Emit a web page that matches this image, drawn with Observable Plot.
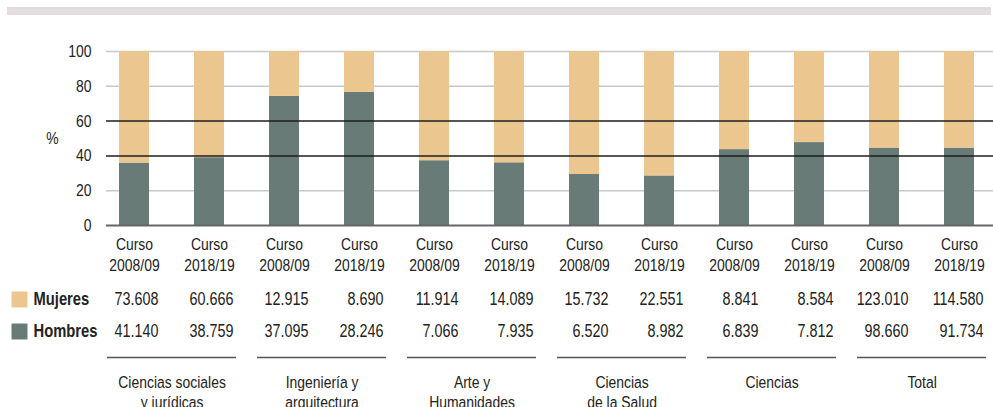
<!DOCTYPE html>
<html><head><meta charset="utf-8">
<script src="https://cdn.jsdelivr.net/npm/d3@7"></script>
<script src="https://cdn.jsdelivr.net/npm/@observablehq/plot@0.6"></script>
<style>
body{margin:0;background:#fff;}
#wrap{position:relative;width:993px;height:407px;overflow:hidden;}
#band{position:absolute;left:7px;top:7px;width:984px;height:8px;background:#e3dedb;}
</style></head><body>
<div id="wrap"><div id="chart"></div><div id="band"></div></div>
<script>
const areas = ["Ciencias sociales\ny jurídicas", "Ingeniería y\narquitectura", "Arte y\nHumanidades", "Ciencias\nde la Salud", "Ciencias", "Total"];
const courses = ["2008/09", "2018/19"];
const series = ["Mujeres", "Hombres"];
const mujeres = [73608, 60666, 12915, 8690, 11914, 14089, 15732, 22551, 8841, 8584, 123010, 114580];
const hombres = [41140, 38759, 37095, 28246, 7066, 7935, 6520, 8982, 6839, 7812, 98660, 91734];
const yTicks = [0, 20, 40, 60, 80, 100];
const colors = ["#ebc68f", "#687b77"];

const FONT = '"Liberation Sans", Arial, sans-serif';
const NARROW = 0.82; // horizontal condensing to mimic Arial Narrow
const fmt = d3.formatLocale({decimal: ",", thousands: ".", grouping: [3], currency: ["", "€"]}).format(",d");

const keys = [];
areas.forEach(a => courses.forEach(c => keys.push(a + "|" + c)));
const values = {Mujeres: mujeres, Hombres: hombres};

// stacked rows: Hombres at bottom, Mujeres on top
const rows = [];
keys.forEach((k, i) => {
  const total = mujeres[i] + hombres[i];
  rows.push({key: k, sex: "Hombres", pct: 100 * hombres[i] / total});
  rows.push({key: k, sex: "Mujeres", pct: 100 * mujeres[i] / total});
});

const groups = areas.map((a, j) => ({label: a, k1: keys[2 * j], k2: keys[2 * j + 1]}));

const tableMarks = [];
series.forEach((s, j) => {
  const dy = 74 + 32 * j;
  tableMarks.push(
    Plot.dot([s], {frameAnchor: "bottom-left", symbol: "square", r: 9, fill: colors[j], dx: -87, dy}),
    Plot.text([s], {frameAnchor: "bottom-left", text: d => d, dx: -73, dy, textAnchor: "start", lineAnchor: "middle", fontWeight: "bold", fontSize: 18, fill: "#222"}),
    Plot.text(keys, {x: d => d, text: (d, i) => fmt(values[s][i]), frameAnchor: "bottom", dx: 24, dy, textAnchor: "end", lineAnchor: "middle", fontSize: 17.5, fill: "#222"})
  );
});

const chart = Plot.plot({
  width: 993,
  height: 407,
  marginLeft: 106,
  marginRight: 0,
  marginTop: 51,
  marginBottom: 182,
  style: {fontFamily: FONT, fontSize: "17px", color: "#222", background: "#fff", overflow: "visible"},
  x: {domain: keys, paddingInner: 0.595, paddingOuter: 0.195, align: 0.42, label: null},
  y: {domain: [0, 100], label: null},
  color: {domain: series, range: colors},
  marks: [
    Plot.ruleY(yTicks.filter(t => t === 20 || t === 80 || t === 100), {stroke: "#c8c8c8", strokeWidth: 1.5}),
    Plot.barY(rows, {x: "key", y: "pct", fill: "sex"}),
    Plot.ruleY([40, 60], {stroke: "#1e1e1e", strokeWidth: 1.5}),
    Plot.ruleY([0], {stroke: "#666", strokeWidth: 2}),
    Plot.axisY({ticks: yTicks, tickSize: 0, tickPadding: 15, fontSize: 17, label: null}),
    Plot.axisX({tickSize: 0, tickPadding: 10, tickFormat: k => "Curso\n" + k.split("|")[1], lineHeight: 1.22, fontSize: 17, label: null}),
    Plot.text(["%"], {frameAnchor: "left", text: d => d, dx: -54, textAnchor: "middle", fontSize: 17, fill: "#222"}),
    ...tableMarks,
    Plot.ruleY(groups, {y: () => 0, x1: "k1", x2: "k2", dy: 132, insetLeft: -12, insetRight: -12, stroke: "#555", strokeWidth: 1.5}),
    Plot.text(groups, {x: "k1", text: "label", frameAnchor: "bottom", dx: 37.6, dy: 148, lineAnchor: "top", lineHeight: 1.18, fontSize: 17, fill: "#222"})
  ]
});

// condense every text horizontally around its own anchor (keep vertical offsets untouched)
chart.querySelectorAll("text").forEach(t => {
  const xa = t.getAttribute("x");
  let x = 0;
  if (xa != null && isFinite(+xa)) { x = +xa; t.removeAttribute("x"); }
  const tr = t.getAttribute("transform") || "";
  t.setAttribute("transform", `${tr} translate(${x},0) scale(${NARROW},1)`);
});
document.getElementById("chart").appendChild(chart);
</script>
</body></html>
